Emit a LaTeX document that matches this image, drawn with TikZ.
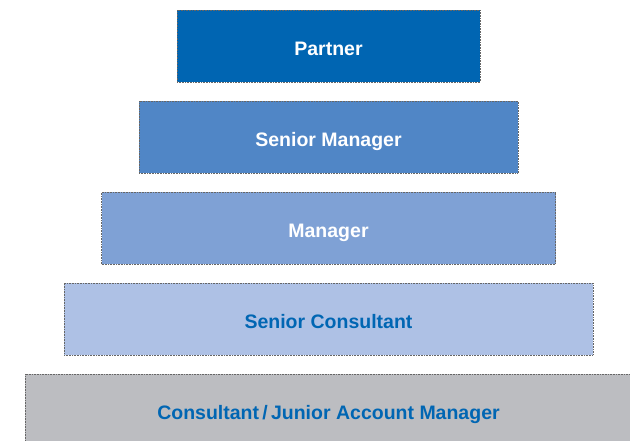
\documentclass[tikz,border=0pt]{standalone}
\usepackage{fontspec}
\setmainfont{Liberation Sans}
\usetikzlibrary{positioning}

\definecolor{partnerblue}{HTML}{0065B2}
\definecolor{seniorblue}{HTML}{5086C6}
\definecolor{managerblue}{HTML}{7FA1D5}
\definecolor{consultblue}{HTML}{AEC1E5}
\definecolor{juniorgray}{HTML}{BCBDC1}
\definecolor{textblue}{HTML}{0066B3}

\begin{document}
\begin{tikzpicture}[
    x=1pt, y=-1pt,
    % Global styles
    level/.style={rectangle, draw=gray!80!black, densely dotted, line width=0.6pt,
        minimum height=72pt, inner sep=0pt, outer sep=0pt,
        text height=18pt, text depth=0pt,
        font=\fontsize{19.5}{22}\selectfont\bfseries},
    darklevel/.style={level, text=white},
    lightlevel/.style={level, text=textblue}
    ]
    % Frame of the picture
    \useasboundingbox (0,0) rectangle (630,440);

    % ===========================
    % PYRAMID OF LEVELS
    % ===========================

    % Top
    \node[darklevel, fill=partnerblue, minimum width=303pt] (partner) at (328.5,46) {Partner};
    \node[darklevel, fill=seniorblue, minimum width=379pt, below=19pt of partner] (srmanager) {Senior Manager};
    \node[darklevel, fill=managerblue, minimum width=454pt, below=19pt of srmanager] (manager) {Manager};

    % Bottom (blue text)
    \node[lightlevel, fill=consultblue, minimum width=529pt, below=19pt of manager] (srconsultant) {Senior Consultant};
    \node[lightlevel, fill=juniorgray, minimum width=607pt, below=19pt of srconsultant] (consultant) {Consultant\,/\,Junior Account Manager};

\end{tikzpicture}
\end{document}
